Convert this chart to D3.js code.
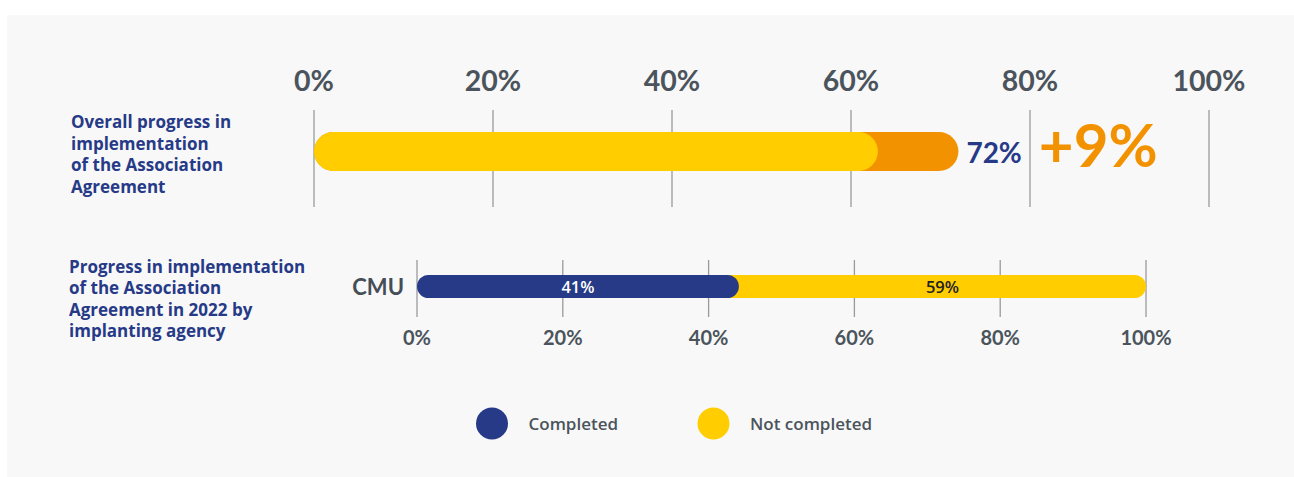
<!DOCTYPE html>
<html>
<head>
<meta charset="utf-8">
<script src="https://cdn.jsdelivr.net/npm/d3@7"></script>
<style>
  body { margin: 0; background: #fff; }
  svg { display: block; font-family: Lato, "Open Sans", sans-serif; }
  .wide { font-family: "Open Sans", Lato, sans-serif; }
</style>
</head>
<body>
<script>
// chart values
var tickValues = [0, 20, 40, 60, 80, 100];
var overallPrevious = 63;
var overallCurrent = 72;
var overallChange = '+9%';

var agencies = ['CMU'];
var completed = [41];
var notCompleted = [59];

var legendLabels = ['Completed', 'Not completed'];

var overallTitle = ['Overall progress in', 'implementation', 'of the Association', 'Agreement'];
var agencyTitle = ['Progress in implementation', 'of the Association', 'Agreement in 2022 by', 'implanting agency'];

var navy = '#263a87';
var yellow = '#ffcd00';
var orange = '#f39200';
var grey = '#4b545c';
var gridColor = '#9a9a9a';

var width = 1294, height = 477;

var svg = d3.select('body')
  .append('svg')
  .attr('width', width)
  .attr('height', height);

//light panel behind everything
svg.append('rect')
  .attr('x', 7)
  .attr('y', 15)
  .attr('width', width - 7)
  .attr('height', height - 15)
  .attr('fill', '#f8f8f8');

// ---------- overall chart ----------
var x1 = d3.scaleLinear().domain([0, 100]).range([314, 1209]);
var overall = svg.append('g');
var barY1 = 151.5, barH1 = 39;

overall.selectAll('.grid')
  .data(tickValues)
  .enter()
  .append('line')
  .attr('x1', function(d) { return x1(d); })
  .attr('x2', function(d) { return x1(d); })
  .attr('y1', 110)
  .attr('y2', 207)
  .attr('stroke', gridColor)
  .attr('stroke-width', 1.3);

overall.selectAll('.tick')
  .data(tickValues)
  .enter()
  .append('text')
  .attr('x', function(d) { return x1(d); })
  .attr('y', 91)
  .attr('text-anchor', 'middle')
  .attr('font-size', 28.5)
  .attr('font-weight', 700)
  .attr('fill', grey)
  .text(function(d) { return d + '%'; });

//current value behind, previous value on top
overall.append('rect')
  .attr('x', x1(0))
  .attr('y', barY1 - barH1 / 2)
  .attr('width', x1(overallCurrent) - x1(0))
  .attr('height', barH1)
  .attr('rx', barH1 / 2)
  .attr('fill', orange);

overall.append('rect')
  .attr('x', x1(0))
  .attr('y', barY1 - barH1 / 2)
  .attr('width', x1(overallPrevious) - x1(0))
  .attr('height', barH1)
  .attr('rx', barH1 / 2)
  .attr('fill', yellow);

var valueLabel = overall.append('text')
  .attr('x', x1(overallCurrent) + 8)
  .attr('y', 162.5)
  .attr('font-size', 28)
  .attr('font-weight', 700)
  .attr('fill', navy)
  .text(overallCurrent + '%');

var labelEnd = x1(overallCurrent) + 8 + valueLabel.node().getComputedTextLength();

overall.append('text')
  .attr('x', labelEnd + 17)
  .attr('y', 167)
  .attr('font-size', 60)
  .attr('font-weight', 700)
  .attr('fill', orange)
  .text(overallChange);

overall.append('text')
  .attr('class', 'wide')
  .attr('x', 71)
  .attr('y', 128)
  .attr('font-size', 17)
  .attr('font-weight', 700)
  .attr('fill', navy)
  .selectAll('tspan')
  .data(overallTitle)
  .enter()
  .append('tspan')
  .attr('x', 71)
  .attr('dy', function(d, i) { return i === 0 ? 0 : 21.5; })
  .text(function(d) { return d; });

// ---------- agency chart ----------
var x2 = d3.scaleLinear().domain([0, 100]).range([417, 1146]);
var y2 = d3.scaleBand().domain(agencies).range([275, 298]);
var agencyChart = svg.append('g');
var barH2 = y2.bandwidth();

agencyChart.selectAll('.grid')
  .data(tickValues)
  .enter()
  .append('line')
  .attr('x1', function(d) { return x2(d); })
  .attr('x2', function(d) { return x2(d); })
  .attr('y1', 260)
  .attr('y2', 317)
  .attr('stroke', gridColor)
  .attr('stroke-width', 1.3);

agencyChart.selectAll('.tick')
  .data(tickValues)
  .enter()
  .append('text')
  .attr('x', function(d) { return x2(d); })
  .attr('y', 345)
  .attr('text-anchor', 'middle')
  .attr('font-size', 20)
  .attr('font-weight', 700)
  .attr('fill', grey)
  .text(function(d) { return d + '%'; });

var rows = agencies.map(function(a, i) {
  return { name: a, done: completed[i], todo: notCompleted[i] };
});

var row = agencyChart.selectAll('.row')
  .data(rows)
  .enter()
  .append('g');

//the rounded end of the completed bar overlaps the remaining part
row.append('rect')
  .attr('x', function(d) { return x2(d.done); })
  .attr('y', function(d) { return y2(d.name); })
  .attr('width', function(d) { return x2(d.done + d.todo) - x2(d.done); })
  .attr('height', barH2)
  .attr('rx', barH2 / 2)
  .attr('fill', yellow);

row.append('rect')
  .attr('x', x2(0))
  .attr('y', function(d) { return y2(d.name); })
  .attr('width', function(d) { return x2(d.done) - x2(0) + barH2; })
  .attr('height', barH2)
  .attr('rx', barH2 / 2)
  .attr('fill', navy);

row.append('text')
  .attr('class', 'wide')
  .attr('x', function(d) { return (x2(0) + x2(d.done) + barH2) / 2; })
  .attr('y', function(d) { return y2(d.name) + barH2 / 2 + 6; })
  .attr('text-anchor', 'middle')
  .attr('font-size', 16.5)
  .attr('font-weight', 600)
  .attr('fill', '#fff')
  .text(function(d) { return d.done + '%'; });

row.append('text')
  .attr('class', 'wide')
  .attr('x', function(d) { return (x2(d.done) + barH2 + x2(d.done + d.todo)) / 2; })
  .attr('y', function(d) { return y2(d.name) + barH2 / 2 + 6; })
  .attr('text-anchor', 'middle')
  .attr('font-size', 16.5)
  .attr('font-weight', 600)
  .attr('fill', '#222')
  .text(function(d) { return d.todo + '%'; });

row.append('text')
  .attr('x', 404)
  .attr('y', function(d) { return y2(d.name) + barH2 / 2 + 8; })
  .attr('text-anchor', 'end')
  .attr('font-size', 22)
  .attr('font-weight', 700)
  .attr('fill', '#454e56')
  .text(function(d) { return d.name; });

agencyChart.append('text')
  .attr('class', 'wide')
  .attr('x', 69)
  .attr('y', 272.5)
  .attr('font-size', 17)
  .attr('font-weight', 700)
  .attr('fill', navy)
  .selectAll('tspan')
  .data(agencyTitle)
  .enter()
  .append('tspan')
  .attr('x', 69)
  .attr('dy', function(d, i) { return i === 0 ? 0 : 21.5; })
  .text(function(d) { return d; });

// ---------- legend ----------
var legendColor = d3.scaleOrdinal().domain(legendLabels).range([navy, yellow]);
var legend = svg.selectAll('.legend')
  .data(legendLabels)
  .enter()
  .append('g')
  .attr('transform', function(d, i) { return 'translate(' + (492 + i * 221.5) + ',423.5)'; });

legend.append('circle')
  .attr('r', 16)
  .attr('fill', function(d) { return legendColor(d); });

legend.append('text')
  .attr('class', 'wide')
  .attr('x', 36.5)
  .attr('y', 6)
  .attr('font-size', 17)
  .attr('font-weight', 600)
  .attr('fill', grey)
  .text(function(d) { return d; });
</script>
</body>
</html>
